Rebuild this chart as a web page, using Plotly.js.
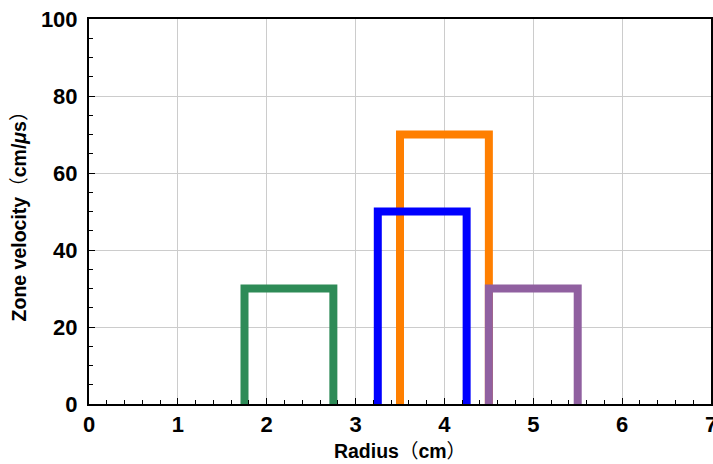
<!DOCTYPE html>
<html>
<head>
<meta charset="utf-8">
<script src="https://cdn.plot.ly/plotly-3.0.1.min.js"></script>
<style>html,body{margin:0;padding:0;background:#fff;}#chart{width:713px;height:464px;}</style>
</head>
<body>
<div id="chart"></div>
<script>
// Zone data (drawn in this order)
const zoneNames = ["Zone A", "Zone C", "Zone B", "Zone D"];
const zoneLeft = [1.75, 3.5, 3.25, 4.5];
const zoneRight = [2.75, 4.5, 4.25, 5.5];
const zoneVelocity = [30, 70, 50, 30];
const zoneColors = ["#2e8b57", "#ff7f00", "#0000ff", "#9060a0"];

const xTickVals = [0, 1, 2, 3, 4, 5, 6, 7];
const yTickVals = [0, 20, 40, 60, 80, 100];

const traces = zoneNames.map((name, i) => ({
  type: "scatter",
  mode: "lines",
  name: name,
  x: [zoneLeft[i], zoneLeft[i], zoneRight[i], zoneRight[i]],
  y: [0, zoneVelocity[i], zoneVelocity[i], 0],
  line: { color: zoneColors[i], width: 8 },
  hoverinfo: "x+y"
}));

const tickFont = { family: "Liberation Sans, Arial, sans-serif", size: 22, color: "#000", weight: "bold" };
const titleFont = { family: "Liberation Sans, Arial, sans-serif", size: 19.5, color: "#000", weight: "bold" };
const thin = (s) => "<span style='font-weight:normal;font-family:\"Noto Sans CJK SC\"'>" + s + "</span>";

const layout = {
  width: 713,
  height: 464,
  margin: { l: 89, r: 2, t: 19, b: 60 },
  paper_bgcolor: "#fff",
  plot_bgcolor: "#fff",
  showlegend: false,
  xaxis: {
    range: [0, 7],
    tickvals: xTickVals,
    ticktext: xTickVals.map(String),
    tickfont: tickFont,
    ticklabeloverflow: "allow",
    ticks: "inside",
    ticklen: 6,
    tickwidth: 1,
    tickcolor: "#000",
    showgrid: true,
    gridcolor: "#cccccc",
    gridwidth: 1,
    zeroline: false,
    showline: true,
    linecolor: "#000",
    linewidth: 2,
    mirror: true,
    minor: { dtick: 0.2, ticks: "inside", ticklen: 4, tickcolor: "#000", showgrid: false },
    title: { text: "Radius" + thin("（") + "cm" + thin("）"), font: titleFont, standoff: 8 }
  },
  yaxis: {
    range: [0, 100],
    tickvals: yTickVals,
    ticktext: yTickVals.map(String),
    tickfont: tickFont,
    ticklabelstandoff: 5,
    ticks: "inside",
    ticklen: 6,
    tickwidth: 1,
    tickcolor: "#000",
    showgrid: true,
    gridcolor: "#cccccc",
    gridwidth: 1,
    zeroline: false,
    showline: true,
    linecolor: "#000",
    linewidth: 2,
    mirror: true,
    minor: { dtick: 5, ticks: "inside", ticklen: 4, tickcolor: "#000", showgrid: false },
    title: { text: "Zone velocity" + thin("（") + "cm/<i>μ</i>s" + thin("）"), font: titleFont, standoff: 9 }
  }
};

Plotly.newPlot("chart", traces, layout, { displayModeBar: false, staticPlot: true });
</script>
</body>
</html>
